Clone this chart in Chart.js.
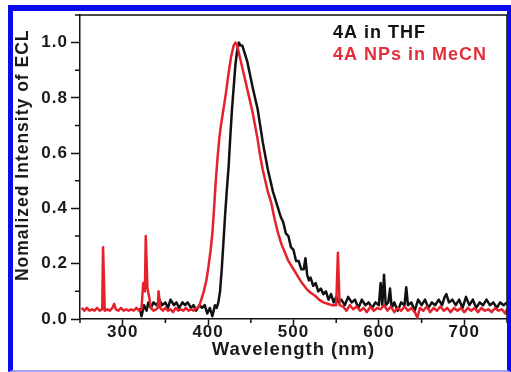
<!DOCTYPE html>
<html>
<head>
<meta charset="utf-8">
<script src="https://cdn.jsdelivr.net/npm/chart.js@4.4.1/dist/chart.umd.min.js"></script>
<style>
  html, body { margin: 0; padding: 0; background: #fff; }
  #wrap { position: relative; width: 511px; height: 372px; overflow: hidden; }
  #frame { position: absolute; left: 8px; top: 5px; width: 494px; height: 359px;
    border-left: 5px solid #0b0bf2; border-top: 6px solid #0b0bf2;
    border-right: 4px solid #0b0bf2; border-bottom: 2px solid #a4a4f6; pointer-events: none; }
  canvas { position: absolute; left: 0; top: 0; }
</style>
</head>
<body>
<div id="wrap">
  <canvas id="eclChart" width="511" height="372"></canvas>
  <div id="frame"></div>
</div>
<script>
// 4A in THF (black)
const thfWavelength = [
  320, 322, 325, 328, 330, 333, 336, 340, 343, 346, 350, 353, 356, 360, 363, 366, 370, 373, 376, 380,
  383, 386, 390, 393, 396, 399, 402, 405, 408, 410, 412,
  414, 416, 418, 420, 422, 424, 426, 428, 430, 432, 434, 436, 438, 440, 442, 444, 446, 448, 450, 452,
  455, 458, 461, 464, 467, 470, 473, 476, 479, 482, 485, 488, 491, 494, 497, 500, 503, 506, 509, 512,
  514, 516, 518, 520, 523, 526, 529, 532, 535, 538, 541, 544, 547, 550, 553,
  556, 560, 564, 568, 572, 576, 580, 584, 588, 592, 596, 600, 602, 604, 606, 608, 611, 613, 615, 618,
  622, 626, 630, 632, 634, 638, 642, 646, 650, 654, 658, 662, 666, 670, 674, 677, 679, 682, 686, 690,
  694, 698, 702, 706, 710, 714, 718, 722, 726, 730, 734, 738, 742, 746, 750
];
const thfIntensity = [
  0.04, 0.01, 0.05, 0.03, 0.06, 0.04, 0.06, 0.05, 0.07, 0.05, 0.06, 0.04, 0.07, 0.05, 0.06, 0.04, 0.06, 0.05, 0.06, 0.04,
  0.05, 0.03, 0.05, 0.04, 0.05, 0.02, 0.04, 0.01, 0.05, 0.04, 0.06,
  0.10, 0.18, 0.28, 0.38, 0.47, 0.55, 0.66, 0.76, 0.84, 0.92, 0.97, 1.00, 0.99, 0.99, 0.97, 0.95, 0.93, 0.90, 0.87, 0.84,
  0.80, 0.76, 0.70, 0.64, 0.59, 0.54, 0.50, 0.46, 0.43, 0.40, 0.37, 0.35, 0.31, 0.30, 0.26, 0.25, 0.21, 0.21, 0.18, 0.18,
  0.22, 0.16, 0.14, 0.15, 0.12, 0.13, 0.10, 0.11, 0.09, 0.10, 0.07, 0.09, 0.06, 0.08, 0.06,
  0.07, 0.05, 0.08, 0.06, 0.07, 0.04, 0.07, 0.05, 0.06, 0.04, 0.06, 0.05, 0.13, 0.05, 0.16, 0.05, 0.06, 0.11, 0.04, 0.06,
  0.03, 0.06, 0.05, 0.115, 0.05, 0.06, 0.03, 0.07, 0.05, 0.07, 0.04, 0.06, 0.05, 0.07, 0.05, 0.08, 0.09, 0.06, 0.07, 0.05,
  0.07, 0.04, 0.08, 0.05, 0.07, 0.04, 0.06, 0.05, 0.07, 0.05, 0.06, 0.04, 0.06, 0.05, 0.06
];

// 4A NPs in MeCN (red)
const npWavelength = [
  252, 255, 258, 261, 264, 267, 270, 273, 276, 277, 279, 282, 285, 288, 290, 292, 295, 298,
  301, 304, 307, 310, 313, 316, 319, 322, 324, 326, 327, 329, 331, 333, 336, 339, 341, 342, 344,
  347, 350, 353, 356, 359, 362, 365, 368, 371, 374, 377, 380, 383, 386,
  388, 390, 392, 395, 398, 400, 403, 405, 407, 409, 411, 413, 415, 418, 421, 424, 427, 430, 432, 434,
  437, 440, 443, 446, 449, 452, 455, 458, 461, 464, 467, 470, 474, 478, 482, 486, 490, 494, 498, 502,
  506, 510, 515, 520, 525, 530, 535, 540, 545, 550, 552, 554,
  558, 562, 566, 570, 574, 578, 582, 586, 590, 594, 598, 602, 606, 610, 614, 618, 622, 626, 630, 634,
  638, 642, 645, 648, 652, 656, 660, 664, 668, 672, 676, 680, 684, 688, 692, 696, 700, 704, 708, 712,
  716, 720, 724, 728, 732, 736, 740, 744, 748, 750
];
const npIntensity = [
  0.04, 0.03, 0.04, 0.03, 0.035, 0.03, 0.04, 0.03, 0.035, 0.26, 0.03, 0.035, 0.03, 0.04, 0.055, 0.035, 0.03, 0.04,
  0.03, 0.035, 0.03, 0.035, 0.03, 0.04, 0.03, 0.035, 0.13, 0.10, 0.30, 0.11, 0.08, 0.04, 0.03, 0.035, 0.04, 0.10, 0.04,
  0.03, 0.04, 0.03, 0.035, 0.025, 0.04, 0.03, 0.035, 0.03, 0.04, 0.03, 0.035, 0.03, 0.04,
  0.04, 0.05, 0.07, 0.10, 0.14, 0.18, 0.25, 0.31, 0.40, 0.50, 0.58, 0.65, 0.70, 0.76, 0.82, 0.89, 0.95, 0.99, 1.00, 0.99,
  0.95, 0.91, 0.87, 0.83, 0.79, 0.75, 0.70, 0.65, 0.59, 0.54, 0.50, 0.46, 0.42, 0.36, 0.31, 0.27, 0.24, 0.21, 0.19, 0.17,
  0.15, 0.13, 0.11, 0.095, 0.085, 0.07, 0.06, 0.055, 0.05, 0.05, 0.24, 0.05,
  0.045, 0.03, 0.05, 0.035, 0.045, 0.03, 0.04, 0.025, 0.045, 0.03, 0.04, 0.035, 0.05, 0.03, 0.045, 0.025, 0.04, 0.03, 0.045, 0.03,
  0.04, 0.025, 0.005, 0.04, 0.03, 0.045, 0.025, 0.04, 0.03, 0.045, 0.03, 0.04, 0.025, 0.04, 0.03, 0.04, 0.025, 0.04, 0.03, 0.04,
  0.025, 0.04, 0.03, 0.035, 0.025, 0.04, 0.03, 0.035, 0.02, 0.035
];

const xTicks = [300, 400, 500, 600, 700];
const xMinorTicks = [250, 350, 450, 550, 650, 750];
const yTicks = [0, 0.2, 0.4, 0.6, 0.8, 1.0];
const yMinorTicks = [0.1, 0.3, 0.5, 0.7, 0.9, 1.1];

const FONT = '"Liberation Sans", Arial, sans-serif';

// frame, minor ticks and the text legend
const decorPlugin = {
  id: 'decor',
  beforeDraw(chart) {
    chart.ctx.letterSpacing = '1px';
  },
  afterDraw(chart) {
    const c = chart.ctx;
    const area = chart.chartArea;
    const { x, y } = chart.scales;
    c.save();
    c.strokeStyle = '#111';
    c.lineWidth = 1.5;
    c.beginPath();
    c.moveTo(area.left, area.top);
    c.lineTo(area.right, area.top);
    c.lineTo(area.right, area.bottom);
    yMinorTicks.forEach(v => {
      const py = y.getPixelForValue(v);
      c.moveTo(area.left - 5, py);
      c.lineTo(area.left, py);
    });
    xMinorTicks.forEach(v => {
      const px = x.getPixelForValue(v);
      c.moveTo(px, area.bottom);
      c.lineTo(px, area.bottom + 4);
    });
    c.stroke();

    c.font = 'bold 18px ' + FONT;
    c.textAlign = 'left';
    c.textBaseline = 'middle';
    const colors = ['#111', '#e2303a'];
    chart.data.datasets.forEach((ds, i) => {
      c.fillStyle = colors[i];
      c.fillText(ds.label, area.right - 174, area.top + 18 + i * 22);
    });
    c.restore();
  }
};

const toPoints = (xs, ys) => xs.map((v, i) => ({ x: v, y: ys[i] }));

new Chart(document.getElementById('eclChart'), {
  type: 'line',
  data: {
    datasets: [
      {
        label: '4A in THF',
        data: toPoints(thfWavelength, thfIntensity),
        borderColor: '#111',
        borderWidth: 2.5,
        borderJoinStyle: 'round',
        pointRadius: 0,
        tension: 0,
        order: 2
      },
      {
        label: '4A NPs in MeCN',
        data: toPoints(npWavelength, npIntensity),
        borderColor: '#e5222c',
        borderWidth: 2.5,
        borderJoinStyle: 'round',
        pointRadius: 0,
        tension: 0,
        order: 1
      }
    ]
  },
  options: {
    responsive: false,
    animation: false,
    devicePixelRatio: 1,
    layout: { padding: { top: 15, right: 4, left: 0, bottom: 0 } },
    plugins: {
      legend: { display: false },
      tooltip: { enabled: false }
    },
    scales: {
      x: {
        type: 'linear',
        min: 250,
        max: 750,
        afterBuildTicks: s => { s.ticks = xTicks.map(v => ({ value: v })); },
        afterFit: s => { s.height = 53; },
        grid: { drawOnChartArea: false, drawTicks: true, tickLength: 6, tickWidth: 1.5, tickColor: '#111' },
        border: { display: true, color: '#111', width: 1.5 },
        ticks: {
          padding: -3,
          color: '#1a1a1a',
          maxRotation: 0,
          autoSkip: false,
          font: { family: FONT, size: 17, weight: 'bold' }
        },
        title: {
          display: true,
          text: 'Wavelength (nm)',
          color: '#1a1a1a',
          font: { family: FONT, size: 18.5, weight: 'bold' },
          padding: { top: 0, bottom: 11 }
        }
      },
      y: {
        min: 0,
        max: 1.1,
        afterBuildTicks: s => { s.ticks = yTicks.map(v => ({ value: v })); },
        afterFit: s => { s.width = 80; },
        grid: { drawOnChartArea: false, drawTicks: true, tickLength: 9, tickWidth: 1.5, tickColor: '#111' },
        border: { display: true, color: '#111', width: 1.5 },
        ticks: {
          padding: 3,
          color: '#1a1a1a',
          callback: v => Number(v).toFixed(1),
          font: { family: FONT, size: 17, weight: 'bold' }
        },
        title: {
          display: true,
          text: '\u00a0\u00a0\u00a0\u00a0Nomalized Intensity of ECL',
          color: '#1a1a1a',
          font: { family: FONT, size: 17.5, weight: 'bold' },
          padding: { top: 13, bottom: 0 }
        }
      }
    }
  },
  plugins: [decorPlugin]
});
</script>
</body>
</html>
